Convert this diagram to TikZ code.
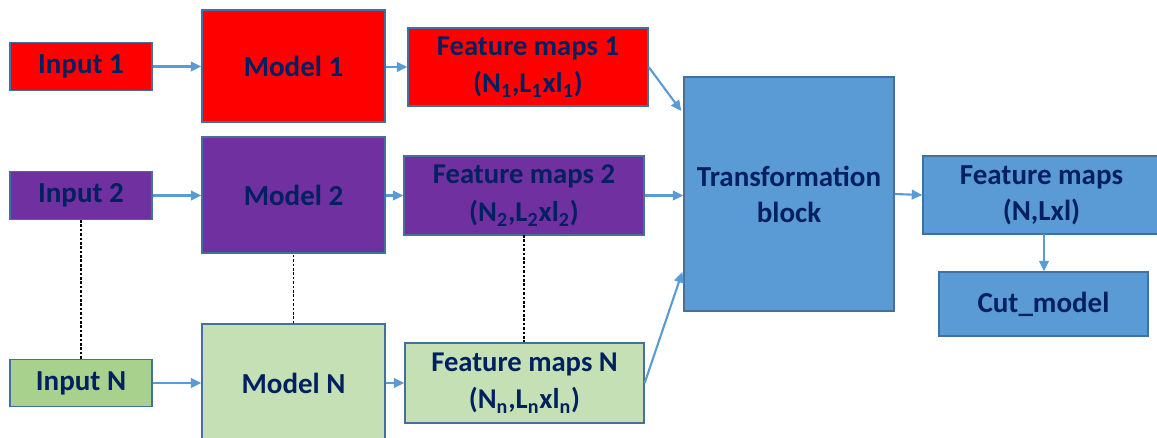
\documentclass[tikz,border=0pt]{standalone}
\usepackage{fontspec}
\setmainfont{Carlito}
\usetikzlibrary{arrows.meta}
\definecolor{myred}{HTML}{FF0000}
\definecolor{mypurple}{HTML}{7030A0}
\definecolor{mygreen}{HTML}{A9D18E}
\definecolor{mylightgreen}{HTML}{C5E0B4}
\definecolor{myblue}{HTML}{5B9BD5}
\definecolor{myborder}{HTML}{41719C}
\definecolor{mytext}{HTML}{002060}
\begin{document}
\begin{tikzpicture}[x=0.02cm,y=-0.02cm,
  box/.style={draw=myborder, line width=0.8pt, inner sep=0pt, text=mytext, align=center},
  inbox/.style={box, minimum width=2.84cm, minimum height=0.95cm},
  modbox/.style={box, minimum width=3.66cm},
  fbig/.style={font=\fontsize{16.5}{20}\selectfont\bfseries},
  fmid/.style={font=\fontsize{16.3}{21.5}\selectfont\bfseries},
  ftr/.style={font=\fontsize{16.5}{20.5}\selectfont\bfseries},
  arr/.style={draw=myblue, line width=1.2pt, -{Triangle[length=6pt,width=5.5pt]}},
  dots/.style={black, line width=0.6pt, dash pattern=on 1.5pt off 1pt}]
\useasboundingbox (0,0) rectangle (1157,437);
\clip (0,0) rectangle (1157,437);
% row 1
\node[inbox, fbig, fill=myred] (in1) at (81,66.5) {Input 1};
\node[modbox, fbig, fill=myred, minimum height=2.24cm] (m1) at (293.5,66) {Model 1};
\node[box, fmid, fill=myred, minimum width=4.8cm, minimum height=1.56cm] (fm1) at (528,67) {Feature maps 1\\(N\textsubscript{1},L\textsubscript{1}xl\textsubscript{1})};
% row 2
\node[inbox, fbig, fill=mypurple] (in2) at (81,195.5) {Input 2};
\node[modbox, fbig, fill=mypurple, minimum height=2.32cm] (m2) at (293.5,195) {Model 2};
\node[box, fmid, fill=mypurple, minimum width=4.8cm, minimum height=1.58cm] (fm2) at (524,195.5) {Feature maps 2\\(N\textsubscript{2},L\textsubscript{2}xl\textsubscript{2})};
% row N
\node[inbox, fbig, fill=mygreen] (inN) at (81,383) {Input N};
\node[modbox, fbig, fill=mylightgreen, minimum height=2.36cm] (mN) at (293.5,383) {Model N};
\node[box, fmid, fill=mylightgreen, minimum width=4.78cm, minimum height=1.6cm] (fmN) at (524.5,383) {Feature maps N\\(N\textsubscript{n},L\textsubscript{n}xl\textsubscript{n})};
% right part
\node[box, ftr, fill=myblue, minimum width=4.2cm, minimum height=4.68cm] (tr) at (789,194) {Transformation\\block};
\node[box, ftr, fill=myblue, minimum width=4.74cm, minimum height=1.56cm] (fm) at (1041.5,195) {Feature maps\\(N,Lxl)};
\node[box, ftr, fill=myblue, minimum width=4.18cm, minimum height=1.28cm] (cut) at (1043.5,304) {Cut\_model};
% arrows
\draw[arr] (in1.east) -- (in1.east -| m1.west);
\draw[arr] (m1.east |- fm1.west) -- (fm1.west);
\draw[arr] (in2.east) -- (in2.east -| m2.west);
\draw[arr] (m2.east |- fm2.west) -- (fm2.west);
\draw[arr] (inN.east) -- (inN.east -| mN.west);
\draw[arr] (mN.east |- fmN.west) -- (fmN.west);
\draw[arr] (fm1.east) -- ([xshift=-0.04cm,yshift=1.66cm]tr.west);
\draw[arr] (fm2.east) -- (fm2.east -| tr.west);
\draw[arr] (fmN.east) -- ([xshift=-0.02cm,yshift=-1.56cm]tr.west);
\draw[arr] (tr.east) -- (fm.west);
\coordinate (fmb) at (1044,234);
\draw[arr] (fmb) -- (fmb |- cut.north);
% dotted links
\draw[dots] (in2.south) -- (inN.north);
\draw[dots] (mN.north -| m2.south) -- (m2.south);
\coordinate (d1) at (524,235);
\draw[dots] (d1) -- (d1 |- fmN.north);
\end{tikzpicture}
\end{document}
